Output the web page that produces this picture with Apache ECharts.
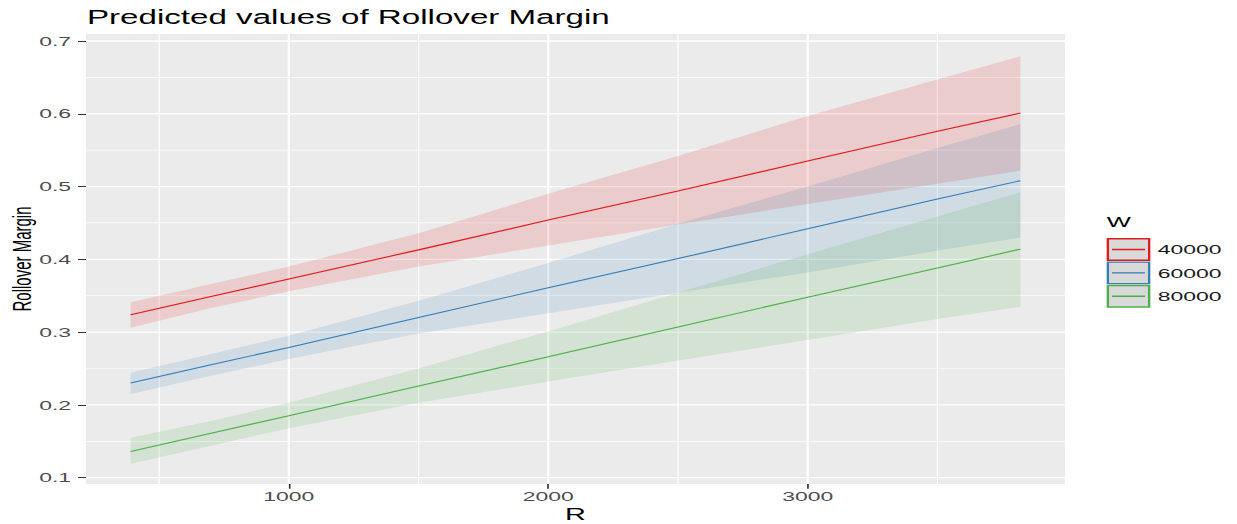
<!DOCTYPE html>
<html>
<head>
<meta charset="utf-8">
<title>Predicted values of Rollover Margin</title>
<script src="https://cdn.jsdelivr.net/npm/echarts@6/dist/echarts.min.js"></script>
<style>
  html, body { margin: 0; padding: 0; background: #fff; overflow: hidden; }
  /* 原图横向被拉伸过，这里按窄画布绘制再横向放大 */
  #chart { width: 728px; height: 524px; transform: scaleX(1.69918); transform-origin: 0 0; }
</style>
</head>
<body>
<div id="chart"></div>
<script>
  // R 取值
  var rValues = [390, 700, 1000, 1500, 2000, 2500, 3000, 3500, 3820];
  var groupNames = ['40000', '60000', '80000'];

  // W = 40000
  var fit40000 = [0.324, 0.349, 0.373, 0.413, 0.454, 0.494, 0.535, 0.576, 0.601];
  var lower40000 = [0.306, 0.333, 0.356, 0.390, 0.419, 0.448, 0.476, 0.504, 0.522];
  var upper40000 = [0.341, 0.366, 0.390, 0.436, 0.490, 0.542, 0.597, 0.647, 0.679];
  // W = 60000
  var fit60000 = [0.230, 0.255, 0.279, 0.320, 0.361, 0.401, 0.442, 0.483, 0.508];
  var lower60000 = [0.215, 0.240, 0.263, 0.298, 0.326, 0.354, 0.382, 0.412, 0.430];
  var upper60000 = [0.244, 0.270, 0.295, 0.343, 0.395, 0.449, 0.500, 0.553, 0.586];
  // W = 80000
  var fit80000 = [0.136, 0.161, 0.185, 0.226, 0.266, 0.307, 0.348, 0.388, 0.414];
  var lower80000 = [0.119, 0.144, 0.168, 0.203, 0.232, 0.261, 0.289, 0.318, 0.335];
  var upper80000 = [0.155, 0.178, 0.203, 0.250, 0.301, 0.354, 0.407, 0.459, 0.492];

  // 刻度与网格线
  var xTicks = [1000, 2000, 3000];
  var xMinorGrid = [500, 1500, 2500, 3500];
  var yTicks = [0.1, 0.2, 0.3, 0.4, 0.5, 0.6, 0.7];
  var yMinorGrid = [0.15, 0.25, 0.35, 0.45, 0.55, 0.65];

  var colorList = ['#E41A1C', '#377EB8', '#4DAF4A'];
  var fits = [fit40000, fit60000, fit80000];
  var lowers = [lower40000, lower60000, lower80000];
  var uppers = [upper40000, upper60000, upper80000];

  var xMin = 218, xMax = 3992, yMin = 0.0913, yMax = 0.7096;
  var fontFamily = '"Liberation Sans", Arial, sans-serif';

  // 网格线（白色），画在色带下面
  function gridSeries(rows, vertical, width) {
    return {
      type: 'custom',
      silent: true,
      z: 1,
      data: rows,
      renderItem: function (params, api) {
        var cs = params.coordSys;
        var p = api.coord([api.value(0), api.value(1)]);
        var shape = vertical
          ? { x1: p[0], y1: cs.y, x2: p[0], y2: cs.y + cs.height }
          : { x1: cs.x, y1: p[1], x2: cs.x + cs.width, y2: p[1] };
        return { type: 'line', shape: shape, style: { stroke: '#FFFFFF', lineWidth: width } };
      }
    };
  }

  // 置信区间色带：在第一个数据项里画整条多边形
  function ribbonSeries(idx) {
    var rows = rValues.map(function (r, i) { return [r, lowers[idx][i], uppers[idx][i]]; });
    return {
      type: 'custom',
      name: 'band ' + groupNames[idx],
      silent: true,
      z: 2,
      data: rows,
      encode: { x: 0, y: [1, 2] },
      renderItem: function (params, api) {
        if (params.dataIndexInside !== 0) return null;
        var top = [], bottom = [];
        for (var i = 0; i < params.dataInsideLength; i++) {
          var x = api.value(0, i);
          top.push(api.coord([x, api.value(2, i)]));
          bottom.unshift(api.coord([x, api.value(1, i)]));
        }
        return {
          type: 'polygon',
          shape: { points: top.concat(bottom) },
          style: { fill: colorList[idx], opacity: 0.15 }
        };
      }
    };
  }

  function lineSeries(idx) {
    return {
      type: 'line',
      name: groupNames[idx],
      z: 3,
      showSymbol: false,
      silent: true,
      data: rValues.map(function (r, i) { return [r, fits[idx][i]]; }),
      itemStyle: { color: colorList[idx] },
      lineStyle: { color: colorList[idx], width: 1.1 }
    };
  }

  var series = [];
  series.push(gridSeries(yMinorGrid.map(function (v) { return [xMin, v]; }), false, 0.7));
  series.push(gridSeries(xMinorGrid.map(function (v) { return [v, yMin]; }), true, 0.7));
  series.push(gridSeries(yTicks.map(function (v) { return [xMin, v]; }), false, 1.3));
  series.push(gridSeries(xTicks.map(function (v) { return [v, yMin]; }), true, 1.3));
  for (var k = 0; k < 3; k++) series.push(ribbonSeries(k));
  for (var m = 0; m < 3; m++) series.push(lineSeries(m));

  var chart = echarts.init(document.getElementById('chart'), null, { renderer: 'svg' });
  chart.setOption({
    animation: false,
    backgroundColor: '#FFFFFF',
    title: {
      text: 'Predicted values of Rollover Margin',
      left: 51.2,
      top: 7,
      padding: 0,
      textStyle: { color: '#000', fontSize: 19.5, fontWeight: 'normal', fontFamily: fontFamily }
    },
    grid: {
      left: 50.6,
      right: 101.2,
      top: 34,
      bottom: 40,
      show: true,
      backgroundColor: '#EBEBEB',
      borderWidth: 0,
      containLabel: false,
      outerBoundsMode: 'none'
    },
    xAxis: {
      type: 'value',
      min: xMin,
      max: xMax,
      name: 'R',
      nameLocation: 'middle',
      nameGap: 22,
      nameMoveOverlap: false,
      nameTextStyle: { color: '#000', fontSize: 17, fontFamily: fontFamily },
      axisLine: { show: false },
      splitLine: { show: false },
      axisTick: { show: true, length: 4.7, customValues: xTicks, lineStyle: { color: '#333', width: 1 } },
      axisLabel: {
        customValues: xTicks,
        margin: 5.7,
        color: '#4D4D4D',
        fontSize: 13.5,
        fontFamily: fontFamily,
        formatter: function (v) { return String(v); }
      }
    },
    yAxis: {
      type: 'value',
      min: yMin,
      max: yMax,
      name: 'Rollover Margin',
      nameLocation: 'middle',
      nameGap: 30,
      nameMoveOverlap: false,
      nameTextStyle: { color: '#000', fontSize: 15, fontFamily: fontFamily },
      axisLine: { show: false },
      splitLine: { show: false },
      axisTick: { show: true, length: 4.7, customValues: yTicks, lineStyle: { color: '#333', width: 1 } },
      axisLabel: {
        customValues: yTicks,
        margin: 8.8,
        color: '#4D4D4D',
        fontSize: 13.5,
        fontFamily: fontFamily,
        formatter: function (v) { return v.toFixed(1); }
      }
    },
    legend: {
      orient: 'vertical',
      left: 651.3,
      top: 238,
      padding: 0,
      itemWidth: 24.3,
      itemHeight: 21.5,
      itemGap: 0.5,
      selectedMode: false,
      symbolKeepAspect: false,
      icon: 'path://M0,0H40V20H0Z M4,10H36',
      textStyle: { color: '#1A1A1A', fontSize: 13.5, fontFamily: fontFamily },
      data: groupNames.map(function (n, i) {
        return { name: n, itemStyle: { color: '#D9D9D9', borderColor: colorList[i], borderWidth: 1.4 } };
      })
    },
    graphic: [{
      type: 'text',
      left: 651.3,
      top: 214,
      style: { text: 'W', fill: '#000', fontSize: 15, fontFamily: fontFamily }
    }],
    series: series
  });
</script>
</body>
</html>
